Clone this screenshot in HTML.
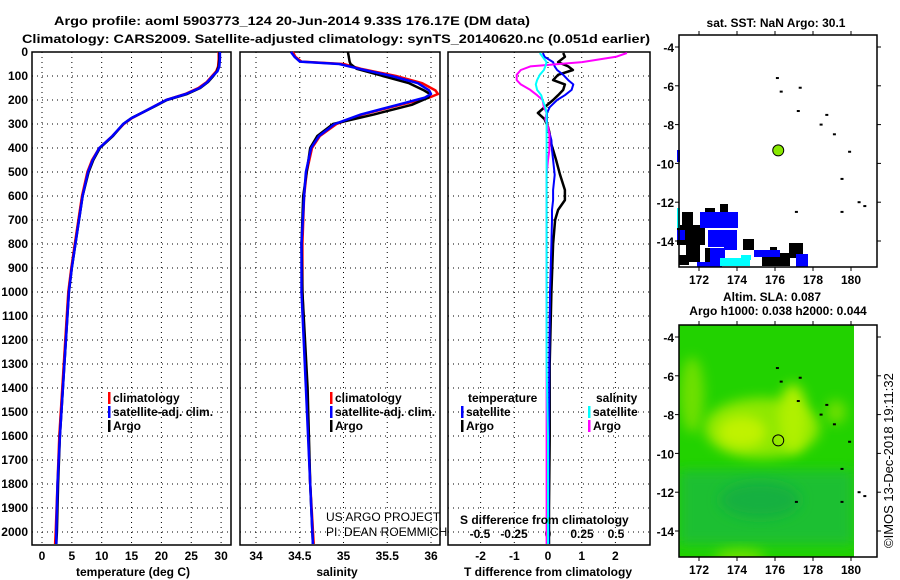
<!DOCTYPE html>
<html><head><meta charset="utf-8"><style>
body{margin:0;background:#fff}
svg{display:block;font-family:"Liberation Sans",sans-serif}
.b{font-weight:bold;font-size:12px}
</style></head><body>
<svg id="c" width="900" height="580" viewBox="0 0 900 580">
<defs>
<filter id="bl" x="-50%" y="-50%" width="200%" height="200%"><feGaussianBlur stdDeviation="6"/></filter>
<clipPath id="mapclip"><rect x="679" y="325" width="175" height="232"/></clipPath>
</defs>
<text x="292" y="25" class="b" font-size="13.5" text-anchor="middle" textLength="476" lengthAdjust="spacingAndGlyphs">Argo profile: aoml 5903773_124 20-Jun-2014 9.33S 176.17E (DM data)</text>
<text x="336" y="43" class="b" font-size="13.5" text-anchor="middle" textLength="628" lengthAdjust="spacingAndGlyphs">Climatology: CARS2009. Satellite-adjusted climatology: synTS_20140620.nc (0.051d earlier)</text>
<g id="g"></g>
</svg>
<script>
// depth grid (m)
const depthTicks=[0,100,200,300,400,500,600,700,800,900,1000,1100,1200,1300,1400,1500,1600,1700,1800,1900,2000];
// temperature profiles
const tDepth=[0,30,60,80,100,125,150,175,200,225,250,275,300,350,400,450,500,600,700,800,900,1000,1200,1400,1600,1800,2000,2050];
const tArgo=[29.7,29.7,29.6,29.3,28.7,27.8,26.5,24.3,20.9,19.0,17.0,15.0,13.6,11.9,9.7,8.6,7.8,6.8,6.2,5.6,5.0,4.5,4.0,3.5,3.0,2.7,2.5,2.4];
const tClim=[29.6,29.6,29.5,29.2,28.5,27.6,26.2,24.0,20.8,18.9,17.0,15.1,13.7,11.8,9.6,8.4,7.6,6.7,6.1,5.5,4.9,4.4,3.9,3.4,2.9,2.6,2.3,2.2];
const tSat=[29.8,29.8,29.7,29.4,28.6,27.7,26.4,24.1,20.8,18.9,17.0,15.0,13.6,11.8,9.6,8.5,7.7,6.8,6.2,5.6,5.0,4.5,4.0,3.5,3.0,2.6,2.4,2.4];
// salinity profiles
const sDepth=[0,20,40,50,70,100,130,160,175,190,220,260,300,350,400,500,600,800,1000,1400,1800,2050];
const sArgo=[35.05,35.06,35.07,35.08,35.15,35.45,35.75,35.92,35.99,35.97,35.78,35.35,34.88,34.70,34.62,34.58,34.54,34.52,34.53,34.59,34.62,34.65];
const sClim=[34.42,34.45,34.52,35.0,35.2,35.6,35.9,36.05,36.08,35.98,35.65,35.22,34.92,34.73,34.64,34.58,34.55,34.53,34.53,34.58,34.62,34.66];
const sSat=[34.40,34.44,34.50,34.95,35.18,35.55,35.85,35.98,36.0,35.93,35.62,35.2,34.9,34.72,34.63,34.57,34.55,34.52,34.52,34.57,34.62,34.65];
// differences from climatology
const dDepth=[4,20,42,60,75,95,117,135,158,180,200,230,254,280,312,340,367,408,450,512,575,617,658,700,800,1000,1300,1600,1900,2050];
const dTArgo=[0.45,0.5,0.3,0.6,0.74,0.3,0.15,0.5,0.45,0.3,0.15,-0.1,-0.3,-0.1,0,0.05,0.06,0.15,0.24,0.36,0.5,0.5,0.3,0.21,0.15,0.1,0.05,0.05,0.03,0.03];
const dTSat=[-0.15,-0.1,0.15,0.2,0.27,0.45,0.6,0.75,0.7,0.5,0.27,0.05,-0.03,-0.03,-0.03,0.05,0.1,0.12,0.15,0.2,0.15,0.15,0.12,0.12,0.1,0.06,0.04,0.03,0.02,0.02];
const dSArgo=[0.58,0.5,0.25,-0.13,-0.2,-0.23,-0.23,-0.2,-0.13,-0.08,-0.04,-0.03,-0.01,-0.02,0,0.01,0.01,0.01,0,-0.01,-0.01,-0.01,-0.01,-0.01,-0.01,-0.01,-0.01,-0.01,-0.01,-0.01];
const dSSat=[-0.06,-0.04,-0.01,-0.02,-0.03,-0.06,-0.08,-0.09,-0.08,-0.05,-0.04,-0.02,-0.01,-0.01,-0.01,-0.01,-0.01,-0.01,-0.01,-0.01,-0.01,-0.01,-0.01,-0.01,-0.01,-0.01,-0.01,0,0,0];
const tTicks=[0,5,10,15,20,25,30];
const sTicks=[34,34.5,35,35.5,36];
const dtTicks=[-2,-1,0,1,2];
const dsTicks=["-0.5","-0.25","0","0.25","0.5"];
const lonTicks=[172,174,176,178,180];
const latTicks=[-4,-6,-8,-10,-12,-14];
const floatLon=176.17, floatLat=-9.33;

const NS="http://www.w3.org/2000/svg";
const G=document.getElementById('g');
function mk(tag,at,txt,parent){const e=document.createElementNS(NS,tag);for(const k in at)e.setAttribute(k,at[k]);if(txt!==undefined)e.textContent=txt;(parent||G).appendChild(e);return e;}
const yD=d=>52+d*0.24;
const xT=t=>42+t*5.97;
const xS=s=>256+(s-34)*87.5;
const xDT=t=>548+t*33.7;
const xDS=s=>548+s*136;
const yTop=52,yBot=545;
function frame(x0,x1,name,xt,xfn,labels){
  const f=mk('rect',{x:x0,y:yTop,width:x1-x0,height:yBot-yTop,fill:'none',stroke:'#000','stroke-width':1.5});
  
  
  depthTicks.forEach(d=>{
    const l=mk('line',{x1:x0,x2:x1,y1:yD(d),y2:yD(d),stroke:'#000','stroke-width':1,'stroke-dasharray':'1,4'});
    
    
  });
  xt.forEach((v,i)=>{
    const x=xfn(v);
    const l=mk('line',{x1:x,x2:x,y1:yTop,y2:yBot,stroke:'#000','stroke-width':1,'stroke-dasharray':'1,4'});
    
    
    if(labels){
      const t=mk('text',{x:x,y:560,class:'b','text-anchor':'middle'},String(labels[i]));
      
      
    }
  });
}
frame(32,231,'temperature-plot-frame',tTicks,xT,tTicks);
frame(240,440,'salinity-plot-frame',sTicks,xS,sTicks);
frame(448,650,'difference-plot-frame',dtTicks,xDT,dtTicks);
depthTicks.forEach(d=>{
  const t=mk('text',{x:28,y:yD(d)+4,class:'b','text-anchor':'end'},String(d));
  
  
});
dsTicks.forEach(v=>{
  const t=mk('text',{x:xDS(parseFloat(v)),y:538,class:'b','text-anchor':'middle'},v);
  
  
});
function line(xs,ds,xfn,color,w,name){
  const p=xs.map((v,i)=>xfn(v).toFixed(1)+','+yD(ds[i]).toFixed(1)).join(' ');
  const e=mk('polyline',{points:p,fill:'none',stroke:color,'stroke-width':w,'stroke-linejoin':'round'});
  
  
}
line(tClim,tDepth,xT,'#f00',2.5,'temperature-climatology-line');
line(tArgo,tDepth,xT,'#000',2.5,'temperature-argo-line');
line(tSat,tDepth,xT,'#00f',2.5,'temperature-satellite-line');
line(sClim,sDepth,xS,'#f00',2.5,'salinity-climatology-line');
line(sArgo,sDepth,xS,'#000',2.5,'salinity-argo-line');
line(sSat,sDepth,xS,'#00f',2.5,'salinity-satellite-line');
line(dTArgo,dDepth,xDT,'#000',2.5,'t-diff-argo-line');
line(dTSat,dDepth,xDT,'#00f',2,'t-diff-satellite-line');
line(dSArgo,dDepth,xDS,'#f0f',2,'s-diff-argo-line');
line(dSSat,dDepth,xDS,'#0ff',2,'s-diff-satellite-line');
function tx(x,y,s,name,cls,extra){const t=mk('text',Object.assign({x:x,y:y,class:cls||'b'},extra||{}),s);return t;}
function leg(x,y,c,s,name){
  const r=mk('rect',{x:x,y:y-10,width:2.5,height:12,fill:c});
  
  
  tx(x+5,y,s,name);
}
leg(108,402,'#f00','climatology','legend-t-climatology');
leg(108,416,'#00f','satellite-adj. clim.','legend-t-satellite');
leg(108,430,'#000','Argo','legend-t-argo');
leg(330,402,'#f00','climatology','legend-s-climatology');
leg(330,416,'#00f','satellite-adj. clim.','legend-s-satellite');
leg(330,430,'#000','Argo','legend-s-argo');
tx(468,402,'temperature','legend-temperature-header');
tx(596,402,'salinity','legend-salinity-header');
leg(461,416,'#00f','satellite','legend-dt-satellite');
leg(461,430,'#000','Argo','legend-dt-argo');
leg(588,416,'#0ff','satellite','legend-ds-satellite');
leg(588,430,'#f0f','Argo','legend-ds-argo');
tx(326,521,'US ARGO PROJECT','credit-project','n',{'font-size':12,fill:'#000'});
tx(326,536,'PI: DEAN ROEMMICH','credit-pi','n',{'font-size':12,fill:'#000'});
tx(460,524,'S difference from climatology','s-diff-axis-title');
tx(133,576,'temperature (deg C)','x-axis-title-temperature','b',{'text-anchor':'middle'});
tx(337,576,'salinity','x-axis-title-salinity','b',{'text-anchor':'middle'});
tx(548,576,'T difference from climatology','x-axis-title-tdiff','b',{'text-anchor':'middle'});

// maps
const mx=lon=>699+(lon-172)*19;
function mapAxes(y0,y1,latTop,name){
  const my=lat=>latTop+(-4-lat)*19.4;
  const f=mk('rect',{x:679,y:y0,width:198,height:y1-y0,fill:'none',stroke:'#000','stroke-width':1.5});
  
  
  lonTicks.forEach(l=>{
    mk('line',{x1:mx(l),x2:mx(l),y1:y0-4,y2:y0,stroke:'#000'});
    mk('line',{x1:mx(l),x2:mx(l),y1:y1,y2:y1+4,stroke:'#000'});
    tx(mx(l),y1+17,String(l),'map-lon-label','b',{'text-anchor':'middle','font-size':13});
  });
  latTicks.forEach(l=>{
    mk('line',{x1:675,x2:679,y1:my(l),y2:my(l),stroke:'#000'});
    mk('line',{x1:877,x2:881,y1:my(l),y2:my(l),stroke:'#000'});
    tx(674,my(l)+5,String(l),'map-lat-label','b',{'text-anchor':'end','font-size':13});
  });
  return my;
}
tx(776,27,'sat. SST: NaN Argo: 30.1','sst-map-title','b',{'text-anchor':'middle','font-size':13});
const blk=[[682,212,11,23],[705,208,10,17],[720,204,8,16],[677,225,28,20],[686,243,14,19],[705,248,10,14],[743,239,11,11],[789,243,14,15],[770,247,7,5],[762,253,28,13],[679,255,10,10]];
const blu=[[677,150,3,12],[700,212,38,16],[708,230,17,17],[724,230,13,20],[710,248,15,14],[754,250,26,7],[796,254,12,13],[697,262,25,5],[677,230,8,10]];
const cya=[[677,208,3,20],[720,258,30,8],[741,255,10,5]];
[[blk,'#000','sst-land-or-missing'],[blu,'#00f','sst-cell-blue'],[cya,'#0ff','sst-cell-cyan']].forEach(([arr,c,n])=>arr.forEach(r=>{
  const e=mk('rect',{x:r[0],y:r[1],width:r[2],height:r[3],fill:c});
  
  
}));
const my1=mapAxes(35,267,47,'sst-map-frame');
const islands=[[176.1,-5.6],[176.3,-6.3],[177.3,-6.1],[177.2,-7.3],[178.7,-7.5],[178.4,-8.0],[179.1,-8.5],[179.9,-9.4],[179.5,-10.8],[180.4,-12.0],[180.7,-12.2],[177.1,-12.5],[179.5,-12.5]];
// altimetry field
const fg=mk('g',{'clip-path':'url(#mapclip)'});
mk('rect',{x:679,y:325,width:175,height:232,fill:'#22d200'},undefined,fg);
mk('rect',{x:679,y:470,width:175,height:75,fill:'#1abf30',filter:'url(#bl)'},undefined,fg);
mk('ellipse',{cx:760,cy:500,rx:40,ry:18,fill:'#14b040',filter:'url(#bl)'},undefined,fg);
mk('ellipse',{cx:692,cy:395,rx:12,ry:38,fill:'#6ee000',filter:'url(#bl)'},undefined,fg);
mk('ellipse',{cx:762,cy:428,rx:58,ry:30,fill:'#8ee800',filter:'url(#bl)'},undefined,fg);
mk('ellipse',{cx:742,cy:432,rx:24,ry:16,fill:'#c0f200',filter:'url(#bl)'},undefined,fg);
mk('ellipse',{cx:793,cy:418,rx:14,ry:34,fill:'#b0f000',filter:'url(#bl)'},undefined,fg);
mk('ellipse',{cx:836,cy:412,rx:10,ry:12,fill:'#70e000',filter:'url(#bl)'},undefined,fg);
mk('ellipse',{cx:740,cy:557,rx:25,ry:8,fill:'#70e000',filter:'url(#bl)'},undefined,fg);


tx(772,301,'Altim. SLA: 0.087','altimetry-map-title','b',{'text-anchor':'middle','font-size':13});
tx(778,315,'Argo h1000: 0.038 h2000: 0.044','altimetry-map-subtitle','b',{'text-anchor':'middle','font-size':13});
const my2=mapAxes(325,557,337,'altimetry-map-frame');
islands.forEach(([lo,la])=>{
  mk('rect',{x:mx(lo)-1,y:my1(la)-1,width:3,height:2,fill:'#000'});
  mk('rect',{x:mx(lo)-1,y:my2(la)-1,width:3,height:2,fill:'#000'});
});
const d1=mk('circle',{cx:mx(floatLon),cy:my1(floatLat),r:5.5,fill:'#88e800',stroke:'#000','stroke-width':1});


const d2=mk('circle',{cx:mx(floatLon),cy:my2(floatLat),r:5.5,fill:'none',stroke:'#000','stroke-width':1});


tx(0,0,'©IMOS 13-Dec-2018 19:11:32','imos-timestamp','n',{'font-size':13,transform:'translate(893,548) rotate(-90)'});
</script>
</body></html>
